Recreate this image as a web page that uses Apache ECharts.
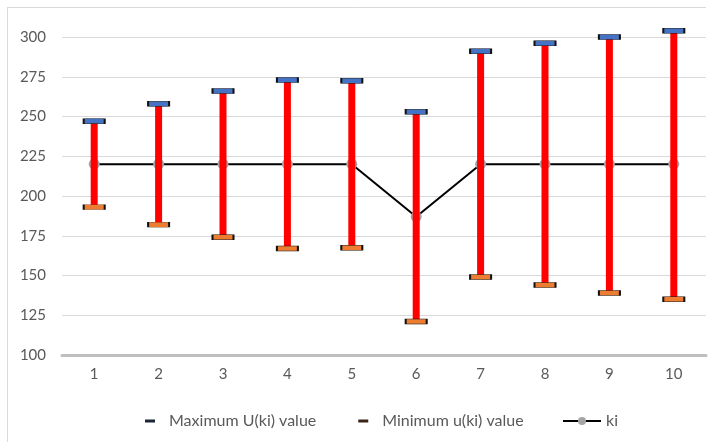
<!DOCTYPE html>
<html>
<head>
<meta charset="utf-8">
<script src="https://cdn.jsdelivr.net/npm/echarts@6/dist/echarts.min.js"></script>
<style>
  html, body { margin: 0; padding: 0; background: #fff; }
  #chart { width: 714px; height: 442px; }
</style>
</head>
<body>
<div id="chart"></div>
<script>
// values
var categories = ['1', '2', '3', '4', '5', '6', '7', '8', '9', '10'];
var maxValues = [247, 258, 266, 273, 272.5, 253, 291, 296, 300, 304];
var minValues = [193, 182, 174, 167, 167.5, 121, 149, 144, 139, 135];
var kiValues = [220, 220, 220, 220, 220, 187, 220, 220, 220, 220];

var rangeData = categories.map(function (c, i) {
  return [i, minValues[i], maxValues[i]];
});

var chart = echarts.init(document.getElementById('chart'));

var option = {
  backgroundColor: '#fff',
  animation: false,
  textStyle: { fontFamily: 'Lato' },
  grid: { left: 62, right: 8, top: 37, bottom: 87 },
  graphic: [
    { type: 'line', shape: { x1: 7.5, y1: 7, x2: 7.5, y2: 442 }, style: { stroke: '#d9d9d9', lineWidth: 1 } },
    { type: 'line', shape: { x1: 7, y1: 7.5, x2: 706, y2: 7.5 }, style: { stroke: '#d9d9d9', lineWidth: 1 } }
  ],
  legend: [
    {
      left: 140, top: 408,
      itemWidth: 10, itemHeight: 3, itemGap: 42,
      data: [
        { name: 'Maximum U(ki) value', icon: 'rect', itemStyle: { color: '#1c2536', borderWidth: 0 } },
        { name: 'Minimum u(ki) value', icon: 'rect', itemStyle: { color: '#3a2416', borderWidth: 0 } }
      ],
      textStyle: { color: '#595959', fontSize: 16, fontFamily: 'Lato', padding: [0, 0, 0, 9] }
    },
    {
      left: 557, top: 408,
      itemWidth: 38, itemHeight: 10,
      data: ['ki'],
      textStyle: { color: '#595959', fontSize: 16, fontFamily: 'Lato' }
    }
  ],
  xAxis: {
    type: 'category',
    data: categories,
    boundaryGap: true,
    axisLine: { lineStyle: { color: '#bfbfbf', width: 3 } },
    axisTick: { show: false },
    axisLabel: { color: '#595959', fontSize: 15, margin: 12 }
  },
  yAxis: {
    type: 'value',
    min: 100,
    max: 300,
    interval: 25,
    axisLine: { show: false },
    axisTick: { show: false },
    axisLabel: { color: '#595959', fontSize: 15, margin: 16 },
    splitLine: { lineStyle: { color: '#d9d9d9', width: 1 } }
  },
  series: [
    {
      name: 'ki',
      type: 'line',
      data: kiValues,
      z: 2,
      symbol: 'circle',
      symbolSize: 11,
      lineStyle: { color: '#000', width: 2 },
      itemStyle: { color: '#a5a5a5' }
    },
    {
      name: 'range',
      type: 'custom',
      data: rangeData,
      z: 3,
      clip: false,
      renderItem: function (params, api) {
        var lo = api.coord([api.value(0), api.value(1)]);
        var hi = api.coord([api.value(0), api.value(2)]);
        return {
          type: 'rect',
          shape: { x: lo[0] - 3.5, y: hi[1], width: 7, height: lo[1] - hi[1] },
          style: { fill: '#ff0000' }
        };
      }
    },
    {
      name: 'Maximum U(ki) value',
      type: 'scatter',
      data: maxValues,
      z: 4,
      clip: false,
      symbol: 'rect',
      symbolSize: [21, 5],
      itemStyle: { color: '#4472c4', borderColor: '#111', borderWidth: 1, opacity: 1 }
    },
    {
      name: 'Minimum u(ki) value',
      type: 'scatter',
      data: minValues,
      z: 4,
      clip: false,
      symbol: 'rect',
      symbolSize: [21, 5],
      itemStyle: { color: '#ed7d31', borderColor: '#111', borderWidth: 1, opacity: 1 }
    }
  ]
};

chart.setOption(option);
</script>
</body>
</html>
